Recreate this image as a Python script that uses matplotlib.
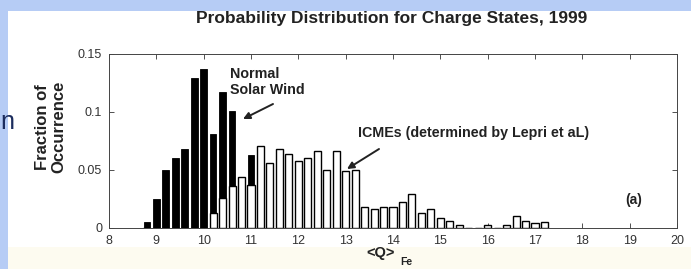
import matplotlib
matplotlib.use("Agg")
import matplotlib.pyplot as plt
from matplotlib.patches import Rectangle

# ---- data ----
bin_centers = [8.8, 9.0, 9.2, 9.4, 9.6, 9.8, 10.0, 10.2, 10.4, 10.6, 10.8, 11.0,
               11.2, 11.4, 11.6, 11.8, 12.0, 12.2, 12.4, 12.6, 12.8, 13.0, 13.2,
               13.4, 13.6, 13.8, 14.0, 14.2, 14.4, 14.6, 14.8, 15.0, 15.2, 15.4,
               15.6, 15.8, 16.0, 16.2, 16.4, 16.6, 16.8, 17.0, 17.2]
normal_sw = [0.005, 0.025, 0.050, 0.060, 0.068, 0.129, 0.137, 0.081, 0.117, 0.101, 0.035, 0.063,
             0, 0, 0, 0, 0, 0, 0, 0, 0, 0, 0,
             0, 0, 0, 0, 0, 0, 0, 0, 0, 0, 0,
             0, 0, 0, 0, 0, 0, 0, 0, 0]
icme = [0, 0, 0, 0, 0, 0, 0, 0.013, 0.026, 0.036, 0.044, 0.037,
        0.071, 0.056, 0.068, 0.064, 0.058, 0.060, 0.066, 0.050, 0.066, 0.049, 0.050,
        0.018, 0.016, 0.018, 0.018, 0.022, 0.029, 0.013, 0.016, 0.009, 0.006, 0.003,
        0, 0, 0.003, 0, 0.003, 0.010, 0.006, 0.004, 0.005]
xticks = list(range(8, 21))
yticks = [0, 0.05, 0.1, 0.15]
ytick_labels = ["0", "0.05", "0.1", "0.15"]

title = "Probability Distribution for Charge States, 1999"
ylabel = "Fraction of\nOccurrence"
label_normal = "Normal\nSolar Wind"
label_icme = "ICMEs (determined by Lepri et aL)"
panel_label = "(a)"

plt.rcParams['font.family'] = ['Liberation Sans', 'DejaVu Sans']

W, H = 691, 269
fig = plt.figure(figsize=(W / 100, H / 100), dpi=100)
fig.patch.set_facecolor('white')

# slide background decorations
fig.patches.append(Rectangle((0, 1 - 11 / H), 1, 11 / H, transform=fig.transFigure,
                             facecolor='#b6ccf5', edgecolor='none', zorder=0))
fig.patches.append(Rectangle((0, 0), 8 / W, 1, transform=fig.transFigure,
                             facecolor='#b6ccf5', edgecolor='none', zorder=0))
fig.patches.append(Rectangle((8 / W, 0), 1, 22 / H, transform=fig.transFigure,
                             facecolor='#fdfbf0', edgecolor='none', zorder=0))
fig.text(0 / W, 1 - 122 / H, "n", fontsize=18, color='#1c2d5e', ha='left', va='center')

L, R, T, B = 109, 677, 54, 228
ax = fig.add_axes([L / W, 1 - B / H, (R - L) / W, (B - T) / H])

ax.bar(bin_centers, normal_sw, width=0.14, color='black', edgecolor='black',
       linewidth=0.6, zorder=2)
ax.bar(bin_centers, icme, width=0.15, color='white', edgecolor='black',
       linewidth=1.0, zorder=3)

ax.set_xlim(8, 20)
ax.set_ylim(0, 0.15)
ax.set_xticks(xticks)
ax.set_xticklabels([str(t) for t in xticks])
ax.set_yticks(yticks)
ax.set_yticklabels(ytick_labels)
ax.tick_params(direction='in', length=3.5, width=0.6, labelsize=9, colors='#333333',
               top=True, right=True, pad=5)
for s in ax.spines.values():
    s.set_linewidth(0.7)
    s.set_color('#444444')

fig.text(392 / W, 1 - 18 / H, title, fontsize=12.5, fontweight='bold',
         ha='center', va='center', color='#222222')
fig.text(51 / W, 1 - 127 / H, ylabel, fontsize=12, fontweight='bold', rotation=90,
         ha='center', va='center', multialignment='center', color='#222222',
         linespacing=1.1)
fig.text(381 / W, 1 - 253 / H, "<Q>", fontsize=10.5, fontweight='bold',
         ha='center', va='center', color='#222222')
fig.text(406 / W, 1 - 262 / H, "Fe", fontsize=7.5, fontweight='bold',
         ha='center', va='center', color='#222222')

def dx(px):
    return 8 + (px - L) / ((R - L) / 12)

def dy(py):
    return (B - py) / ((B - T) / 0.15)

ax.text(dx(230), dy(82), label_normal, fontsize=10.3, fontweight='bold',
        ha='left', va='center', color='#222222', linespacing=1.1)
ax.annotate("", xy=(dx(243), dy(119)), xytext=(dx(273), dy(104)),
            arrowprops=dict(arrowstyle='-|>', color='#222222', lw=1.4,
                            mutation_scale=10, shrinkA=0, shrinkB=0))
ax.text(dx(358), dy(133), label_icme, fontsize=10.3, fontweight='bold',
        ha='left', va='center', color='#222222')
ax.annotate("", xy=(dx(347), dy(169)), xytext=(dx(379), dy(149)),
            arrowprops=dict(arrowstyle='-|>', color='#222222', lw=1.4,
                            mutation_scale=10, shrinkA=0, shrinkB=0))
ax.text(dx(634), dy(200), panel_label, fontsize=10, fontweight='bold',
        ha='center', va='center', color='#222222')

fig.savefig("out.png", dpi=100)
